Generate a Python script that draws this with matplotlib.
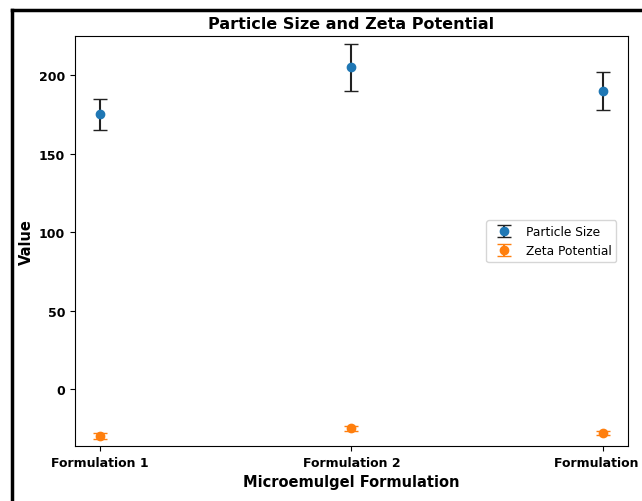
import matplotlib
matplotlib.use("Agg")
import matplotlib.pyplot as plt
from matplotlib.lines import Line2D

categories = ["Formulation 1", "Formulation 2", "Formulation 3"]
particle_size = [175, 205, 190]
particle_err = [10, 15, 12]
zeta = [-30, -25, -28]
zeta_err = [2, 1.5, 1.5]

fig = plt.figure(figsize=(6.42, 5.02), dpi=100)
ax = fig.add_axes([0.1168, 0.1096, 0.8612, 0.8164])

x = list(range(len(categories)))
ax.errorbar(x, particle_size, yerr=particle_err, fmt='o', color='#1f77b4',
            ecolor='#222222', capsize=5, elinewidth=1.5, label='Particle Size')
ax.errorbar(x, zeta, yerr=zeta_err, fmt='o', color='#ff7f0e',
            ecolor='#ff7f0e', capsize=5, elinewidth=1.5, label='Zeta Potential')

ax.set_xticks(x)
ax.set_xticklabels(categories, fontsize=9, fontweight='bold')
ax.set_yticks([0, 50, 100, 150, 200])
for lab in ax.get_yticklabels():
    lab.set_fontsize(9)
    lab.set_fontweight('bold')
ax.set_ylim(-36.3, 224.8)
ax.set_xlabel("Microemulgel Formulation", fontsize=10.5, fontweight='bold')
ax.set_ylabel("Value", fontsize=10.5, fontweight='bold')
ax.set_title("Particle Size and Zeta Potential", fontsize=11.5, fontweight='bold')
ax.legend(loc='center right', fontsize=8.8, bbox_to_anchor=(0.99, 0.5))

# screenshot frame
fig.add_artist(Line2D([0.018, 0.018], [0.0, 0.978], transform=fig.transFigure, color='black', lw=2.5))
fig.add_artist(Line2D([0.018, 1.0], [0.978, 0.978], transform=fig.transFigure, color='black', lw=2.5))

fig.savefig("out.png", dpi=100)
